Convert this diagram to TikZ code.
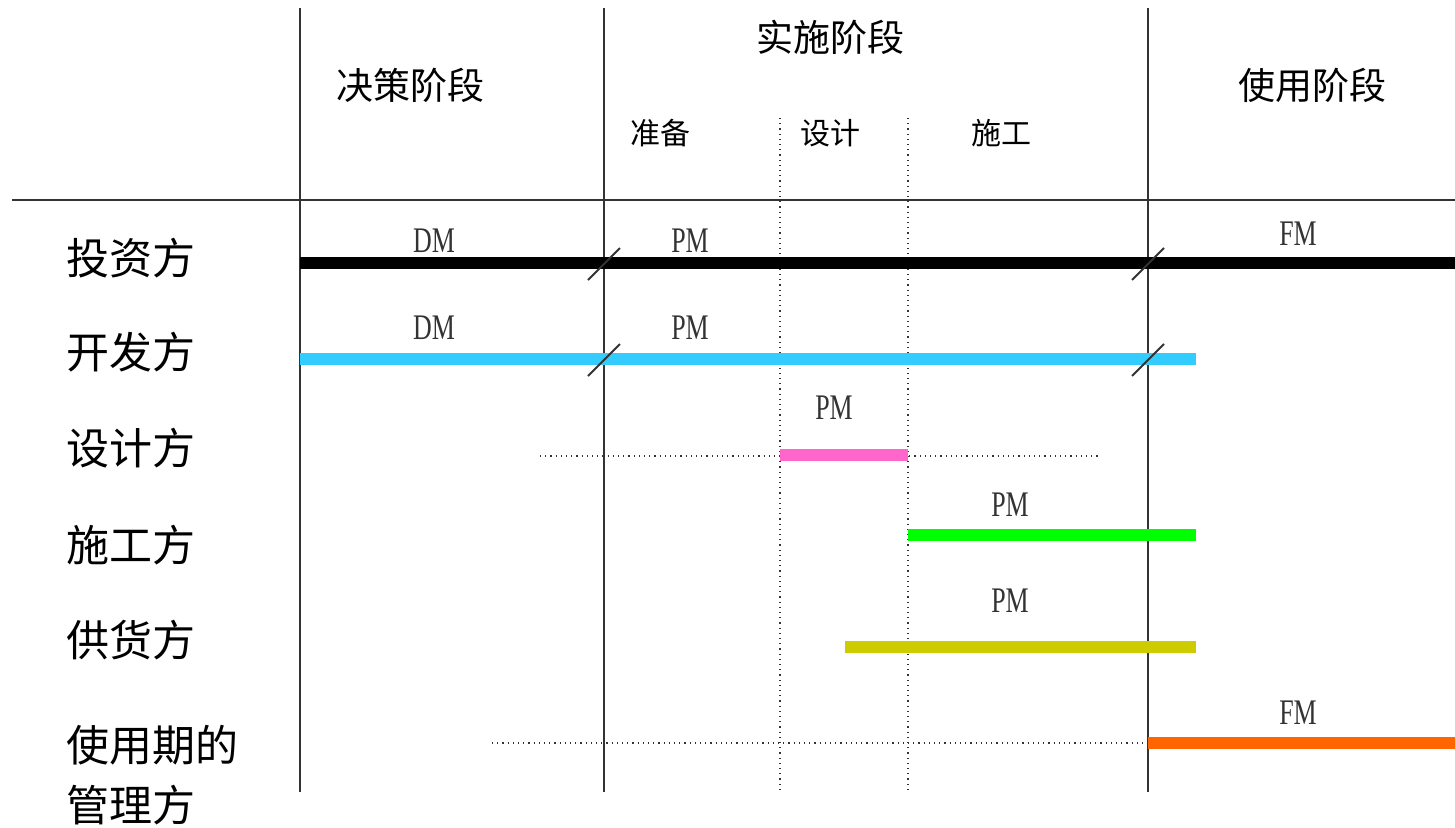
\documentclass[tikz,border=0pt]{standalone}
\usepackage{fontspec}
\newfontfamily\cjk{Noto Sans CJK SC}
\newfontfamily\latin[FakeStretch=0.72]{Liberation Serif}
\definecolor{linegray}{HTML}{333333}
\definecolor{devblue}{HTML}{33CCFF}
\definecolor{despink}{HTML}{FF66CC}
\definecolor{congreen}{HTML}{00FF00}
\definecolor{supolive}{HTML}{CCCC00}
\definecolor{fmorange}{HTML}{FF6600}
\begin{document}
\begin{tikzpicture}[x=0.5pt, y=-0.5pt,
  grid/.style={color=linegray, line width=1pt},
  subgrid/.style={color=linegray, line width=0.6pt, dotted},
  bar/.style={line width=6pt},
  cut/.style={color=linegray, line width=1pt},
  party/.style={font=\cjk\fontsize{21.5}{21.5}\selectfont, anchor=west, inner sep=0pt},
  phase/.style={font=\cjk\fontsize{18.5}{18.5}\selectfont, inner sep=0pt},
  subphase/.style={font=\cjk\fontsize{15}{15}\selectfont, inner sep=0pt},
  role/.style={font=\latin\fontsize{18}{18}\selectfont, color=linegray, inner sep=0pt}]
\useasboundingbox (0,0) rectangle (1455,827);
% grid
\draw[grid] (300,8) -- (300,792);
\draw[grid] (604,8) -- (604,792);
\draw[grid] (1148,8) -- (1148,792);
\draw[grid] (12,200) -- (1455,200);
\draw[subgrid] (780,118) -- (780,790);
\draw[subgrid] (908,118) -- (908,790);
% phases
\node[phase] (decide) at (410,85) {决策阶段};
\node[phase] (build) at (830,37) {实施阶段};
\node[phase] (use) at (1312,85) {使用阶段};
\node[subphase] (prep) at (660,133) {准备};
\node[subphase] (design) at (830,133) {设计};
\node[subphase] (construct) at (1001,133) {施工};
% parties
\node[party] (investor) at (66,258) {投资方};
\node[party] (developer) at (66,352) {开发方};
\node[party] (designer) at (66,448) {设计方};
\node[party] (contractor) at (66,545) {施工方};
\node[party] (supplier) at (66,640) {供货方};
\node[party] (operator) at (66,745) {使用期的};
\node[party] (operator2) at (66,805) {管理方};
% bars
\draw[subgrid] (540,456) -- (1098,456);
\draw[subgrid] (492,743) -- (1148,743);
\draw[bar, color=black] (300,263) -- (1455,263);
\draw[bar, color=devblue] (300,359) -- (1196,359);
\draw[bar, color=despink] (780,455) -- (908,455);
\draw[bar, color=congreen] (908,535) -- (1196,535);
\draw[bar, color=supolive] (845,647) -- (1196,647);
\draw[bar, color=fmorange] (1148,743) -- (1455,743);
% cuts
\foreach \cx in {604,1148}
  \foreach \cy in {263,359}
    \draw[cut] (\cx-16,\cy+17) -- (\cx+16,\cy-15);
% roles
\node[role] (dm1) at (434,241) {DM};
\node[role] (pm1) at (690,241) {PM};
\node[role] (fm1) at (1298,234) {FM};
\node[role] (dm2) at (434,328) {DM};
\node[role] (pm2) at (690,328) {PM};
\node[role] (pm3) at (834,408) {PM};
\node[role] (pm4) at (1010,505) {PM};
\node[role] (pm5) at (1010,601) {PM};
\node[role] (fm2) at (1298,713) {FM};
\end{tikzpicture}
\end{document}
